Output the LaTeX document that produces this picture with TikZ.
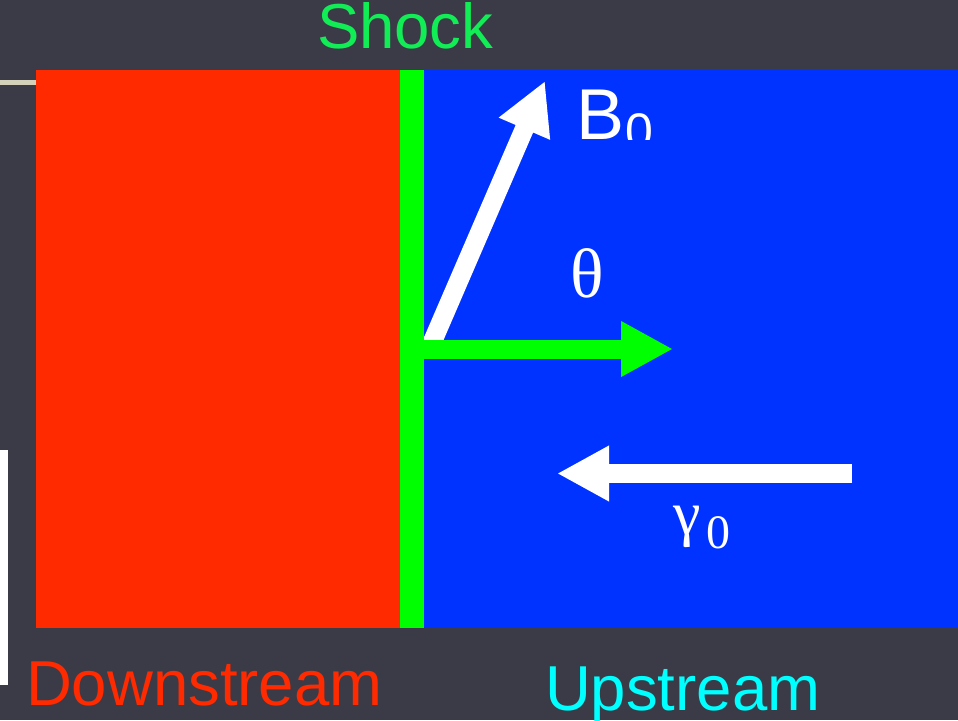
\documentclass[tikz,border=0pt]{standalone}
\usepackage{fontspec}
\setmainfont{Liberation Sans}
\newfontfamily\greekserif{Liberation Serif}
\usepackage{xcolor}
\usetikzlibrary{arrows.meta}

\definecolor{slidebg}{HTML}{3A3B47}
\definecolor{downred}{HTML}{FF2A00}
\definecolor{upblue}{HTML}{0033FF}
\definecolor{shockgreen}{HTML}{00FF00}
\definecolor{shocktext}{HTML}{11EE55}
\definecolor{upcyan}{HTML}{00FFFF}

\begin{document}
\begin{tikzpicture}[
  x=1pt, y=-1pt,
  fatarr/.style={line width=19pt, -{Triangle[length=52pt, width=52pt]}},
  lbl/.style={inner sep=0pt, outer sep=0pt, anchor=base west, font=\fontsize{63.5}{64}\selectfont},
  sym/.style={inner sep=0pt, outer sep=0pt, text=white},
]

  % slide background
  \fill[slidebg] (0,0) rectangle (958,720);
  \useasboundingbox (0,0) rectangle (958,720);
  \fill[gray!70!olive!40] (0,80) rectangle (36,85);
  \fill[white] (0,450) rectangle (8,685);

  % the two regions and the shock front
  \fill[upblue] (424,70) rectangle (958,628);
  \fill[downred] (36,70) rectangle (400,628);

  \coordinate (foot) at (428,352);
  \coordinate (btip) at (545,81);
  \coordinate (ntip) at (673,349);
  \coordinate (gstart) at (852,473.5);
  \coordinate (gtip) at (557,473.5);

  \draw[fatarr, white] (foot) -- (btip);
  \fill[shockgreen] (400,70) rectangle (424,628);
  \draw[fatarr, shockgreen] (424,349) -- (ntip);
  \draw[fatarr, white] (gstart) -- (gtip);

  % labels
  \node[lbl, text=shocktext] (shock) at (317,48) {Shock};
  \node[lbl, text=downred] (down) at (26,705) {Downstream};
  \node[lbl, text=upcyan] (up) at (545,710) {Upstream};

  \node[sym, anchor=base west, font=\fontsize{72}{72}\selectfont] (bfield) at (576,139) {B};
  \begin{scope}
    \clip (600,60) rectangle (680,139);
    \node[sym, anchor=base west, font=\fontsize{50}{50}\selectfont] (bsub) at (625,148) {0};
  \end{scope}

  \node[sym, anchor=base, font=\greekserif\fontsize{70}{70}\selectfont] (theta) at (587.5,297) {θ};
  \node[sym, anchor=base, font=\greekserif\fontsize{62}{62}\selectfont] (gamma) at (687,534) {γ};
  \node[sym, anchor=base west, font=\greekserif\fontsize{48}{48}\selectfont] (gsub) at (706,548) {0};

\end{tikzpicture}
\end{document}
